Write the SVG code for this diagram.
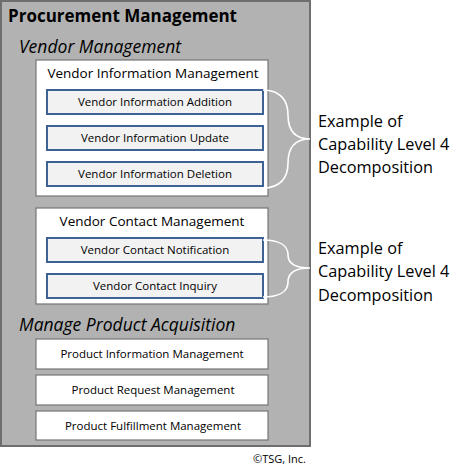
<svg xmlns="http://www.w3.org/2000/svg" width="455" height="466" viewBox="0 0 455 466">
<style>
text{font-family:"Open Sans","Noto Sans","Liberation Sans",sans-serif;fill:#000}
.outer{fill:#b2b2b2;stroke:#6e6e6e;stroke-width:2}
.wbox{fill:#fff;stroke:#767676;stroke-width:1.2}
.bbox{fill:#f2f2f2;stroke:#3f6294;stroke-width:2}
.brace{fill:none;stroke:#fff;stroke-width:1.6}
.t13{font-size:13.5px}
.t12{font-size:11.5px}
.ex{font-size:16.3px}
.it{font-size:17.5px;font-style:italic}
</style>
<rect width="455" height="466" fill="#fff"/>
<g id="procurement">
<rect class="outer" x="1" y="1" width="309" height="445"/>
<text x="8" y="22" font-size="17" font-weight="bold">Procurement Management</text>
</g>
<g id="vendor-management">
<text class="it" x="19" y="53">Vendor Management</text>
</g>
<g id="vendor-info-mgmt">
<rect class="wbox" x="36" y="60" width="232" height="136"/>
<text class="t13" x="153" y="78" text-anchor="middle">Vendor Information Management</text>
</g>
<g id="vi-addition">
<rect class="bbox" x="47" y="90" width="216" height="24"/>
<text class="t12" x="155" y="106" text-anchor="middle">Vendor Information Addition</text>
</g>
<g id="vi-update">
<rect class="bbox" x="47" y="126" width="216" height="24"/>
<text class="t12" x="155" y="142" text-anchor="middle">Vendor Information Update</text>
</g>
<g id="vi-deletion">
<rect class="bbox" x="47" y="162" width="216" height="24"/>
<text class="t12" x="155" y="178" text-anchor="middle">Vendor Information Deletion</text>
</g>
<g id="vendor-contact-mgmt">
<rect class="wbox" x="36" y="208" width="232" height="96"/>
<text class="t13" x="152" y="226" text-anchor="middle">Vendor Contact Management</text>
</g>
<g id="vc-notification">
<rect class="bbox" x="47" y="238" width="216" height="24"/>
<text class="t12" x="155" y="254" text-anchor="middle">Vendor Contact Notification</text>
</g>
<g id="vc-inquiry">
<rect class="bbox" x="47" y="274" width="216" height="24"/>
<text class="t12" x="155" y="290" text-anchor="middle">Vendor Contact Inquiry</text>
</g>
<g id="manage-product">
<text class="it" x="19" y="331">Manage Product Acquisition</text>
</g>
<g id="product-info">
<rect class="wbox" x="36" y="339" width="232" height="30"/>
<text class="t12" x="152" y="358" text-anchor="middle">Product Information Management</text>
</g>
<g id="product-request">
<rect class="wbox" x="36" y="375" width="232" height="30"/>
<text class="t12" x="153" y="394" text-anchor="middle">Product Request Management</text>
</g>
<g id="product-fulfillment">
<rect class="wbox" x="36" y="411" width="232" height="29"/>
<text class="t12" x="153" y="430" text-anchor="middle">Product Fulfillment Management</text>
</g>
<g id="connectors">
<path class="brace" d="M263,90 C280,90 288,100 288,115 C288,130 294,139 310,139 C294,139 288,148 288,163 C288,178 280,188 263,188"/>
<path class="brace" d="M263,240 C280,240 288,246 288,255 C288,263 294,268 310,268 C294,268 288,273 288,282 C288,291 280,297 263,297"/>
</g>
<g id="label-1">
<text class="ex" x="318" y="127">Example of</text>
<text class="ex" x="318" y="150">Capability Level 4</text>
<text class="ex" x="318" y="173">Decomposition</text>
</g>
<g id="label-2">
<text class="ex" x="318" y="254">Example of</text>
<text class="ex" x="318" y="277">Capability Level 4</text>
<text class="ex" x="318" y="301">Decomposition</text>
</g>
<text x="306" y="463" font-size="11" text-anchor="end">©TSG, Inc.</text>
</svg>
